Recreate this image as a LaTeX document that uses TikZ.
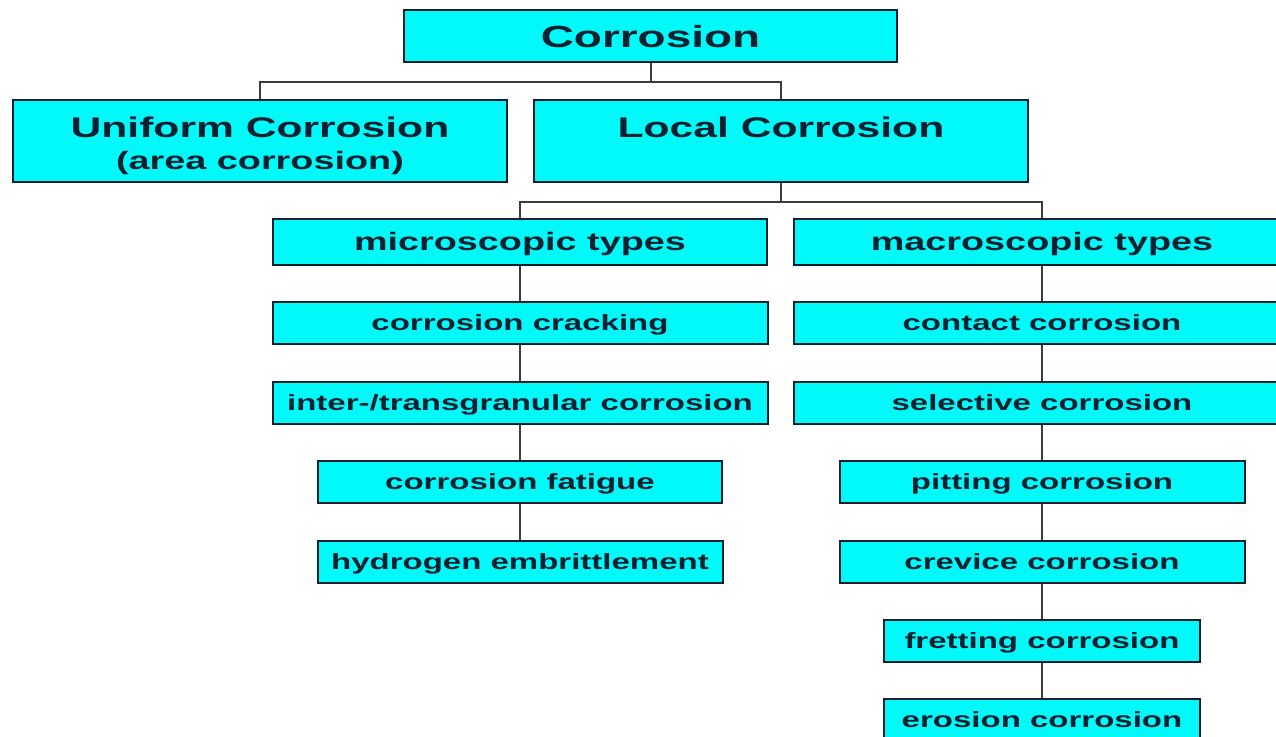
\documentclass[tikz,border=0pt]{standalone}
\usepackage{fontspec}
\newfontfamily\corrfont{Liberation Sans}[FakeStretch=1.5]
\definecolor{boxfill}{RGB}{0,250,250}
\definecolor{boxtext}{RGB}{12,32,48}
\definecolor{linkline}{RGB}{60,60,60}
\tikzstyle{corrbox} = [rectangle, draw=boxtext, line width=1pt, fill=boxfill, text=boxtext, font=\corrfont\bfseries, inner sep=2pt, align=center]
\tikzstyle{header} = [corrbox, minimum height=23pt, text height=9.5pt, text depth=1.5pt, font=\corrfont\bfseries\fontsize{12.6}{14}\selectfont]
\tikzstyle{entry} = [corrbox, minimum height=21pt, text height=9pt, text depth=1.2pt, font=\corrfont\bfseries\fontsize{11}{13}\selectfont]
\tikzstyle{link} = [draw=linkline, line width=1pt]

\begin{document}
\begin{tikzpicture}[x=0.5pt, y=-0.5pt]
  \useasboundingbox (0, 0) rectangle (1276, 736);
  % top levels
  \node[corrbox, minimum width=246.5pt, minimum height=26pt, text height=11pt, text depth=0pt, font=\corrfont\bfseries\fontsize{15.3}{18}\selectfont] (corr) at (650.5, 36) {Corrosion};
  \node[corrbox, minimum width=247pt, minimum height=41pt, font=\corrfont\bfseries\fontsize{12.6}{13.5}\selectfont] (unif) at (260, 141)
    {{\fontsize{14.2}{13.5}\selectfont\rule{0pt}{15.5pt}Uniform Corrosion}\\[2.5pt](area corrosion)};
  \node[corrbox, minimum width=247pt, minimum height=41pt, font=\corrfont\bfseries\fontsize{12.6}{13.5}\selectfont] (local) at (781, 141)
    {{\fontsize{14.2}{13.5}\selectfont\rule{0pt}{15.5pt}Local Corrosion}\\[2.5pt]\vphantom{(area corrosion)}};
  \draw[link] (corr.south) -- ++(0, 19) -| (unif.north);
  \draw[link] (corr.south) -- ++(0, 19) -| (local.north);
  % microscopic column
  \node[header, minimum width=247pt] (mic0) at (520, 242) {microscopic types};
  \foreach \i/\y/\w/\t in {1/323/495/corrosion cracking, 2/403/495/{inter-/transgranular corrosion},
                           3/481.5/404/corrosion fatigue, 4/562/405/hydrogen embrittlement} {
    \node[entry, minimum width={\w*0.5pt}] (mic\i) at (520, \y) {\t};
  }
  % macroscopic column
  \node[header, minimum width=248pt] (mac0) at (1042, 242) {macroscopic types};
  \foreach \i/\y/\w/\t in {1/323/496/contact corrosion, 2/403/496/selective corrosion,
                           3/481.5/405/pitting corrosion, 4/561.5/405/crevice corrosion,
                           5/641/316/fretting corrosion, 6/720/316/erosion corrosion} {
    \node[entry, minimum width={\w*0.5pt}] (mac\i) at (1042, \y) {\t};
  }
  \draw[link] (local.south) -- ++(0, 19) -| (mic0.north);
  \draw[link] (local.south) -- ++(0, 19) -| (mac0.north);
  \foreach \i\j in {0/1, 1/2, 2/3, 3/4} {
    \draw[link] (mic\i) -- (mic\j);
  }
  \foreach \i\j in {0/1, 1/2, 2/3, 3/4, 4/5, 5/6} {
    \draw[link] (mac\i) -- (mac\j);
  }
\end{tikzpicture}
\end{document}
